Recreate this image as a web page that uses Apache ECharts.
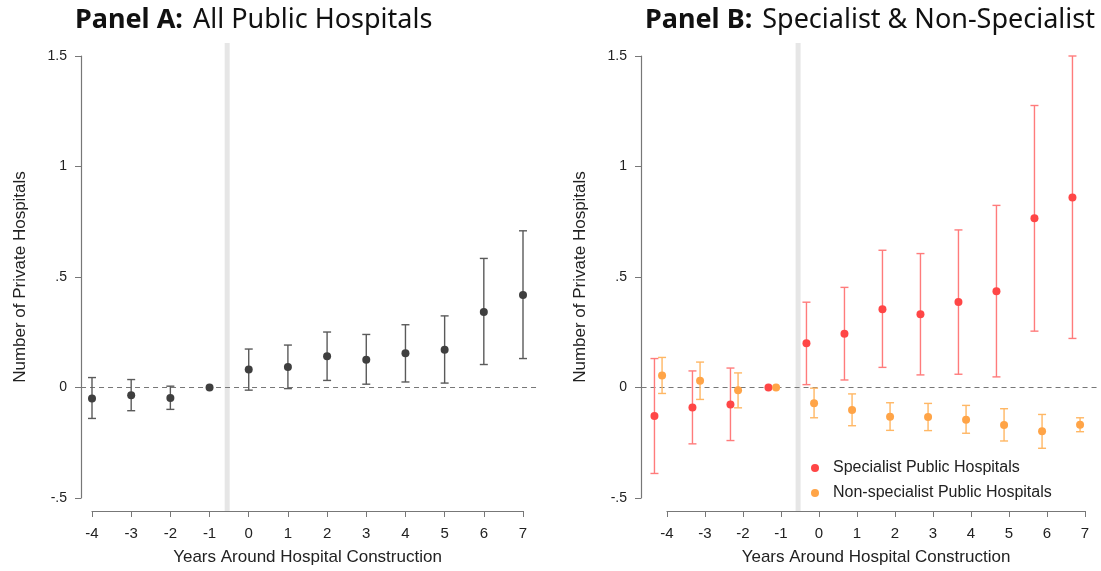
<!DOCTYPE html>
<html>
<head>
<meta charset="utf-8">
<script src="https://cdn.jsdelivr.net/npm/echarts@6/dist/echarts.min.js"></script>
<style>
  html, body { margin: 0; padding: 0; background: #fff; }
  #main { width: 1101px; height: 571px; }
</style>
</head>
<body>
<div id="main"></div>
<script>
// event-time years
var years = [-4, -3, -2, -1, 0, 1, 2, 3, 4, 5, 6, 7];
var yTicks = {'-0.5': '-.5', '0': '0', '0.5': '.5', '1': '1', '1.5': '1.5'};

// Panel A: all public hospitals
var allCoef = [-0.05, -0.035, -0.048, 0, 0.081, 0.093, 0.141, 0.126, 0.155, 0.171, 0.342, 0.419];
var allLow  = [-0.14, -0.105, -0.099, 0, -0.012, -0.005, 0.032, 0.015, 0.025, 0.02, 0.104, 0.131];
var allHigh = [0.045, 0.036, 0.006, 0, 0.174, 0.192, 0.251, 0.24, 0.284, 0.324, 0.584, 0.709];

// Panel B: specialist
var specCoef = [-0.129, -0.09, -0.077, 0, 0.2, 0.243, 0.354, 0.332, 0.387, 0.435, 0.766, 0.86];
var specLow  = [-0.389, -0.255, -0.24, 0, 0.013, 0.034, 0.091, 0.057, 0.06, 0.048, 0.255, 0.222];
var specHigh = [0.131, 0.075, 0.088, 0, 0.386, 0.453, 0.621, 0.606, 0.713, 0.824, 1.276, 1.5];

// Panel B: non-specialist
var nonCoef = [0.054, 0.03, -0.012, 0, -0.071, -0.102, -0.132, -0.134, -0.146, -0.17, -0.198, -0.168];
var nonLow  = [-0.027, -0.054, -0.092, 0, -0.137, -0.173, -0.194, -0.195, -0.207, -0.242, -0.275, -0.2];
var nonHigh = [0.136, 0.115, 0.066, 0, -0.003, -0.029, -0.069, -0.072, -0.081, -0.096, -0.122, -0.137];

var specShift = -0.33, nonShift = -0.13;
var breakYear = -0.55;

function pts(coef, shift) {
  return years.map(function (y, i) { return [y + shift, coef[i]]; });
}
function bars(lo, hi, shift) {
  var out = [];
  years.forEach(function (y, i) {
    if (y === -1) return; // reference year, no interval
    out.push([y + shift, lo[i], hi[i]]);
  });
  return out;
}
function errRender(color) {
  return function (params, api) {
    var x = api.value(0);
    var a = api.coord([x, api.value(1)]);
    var b = api.coord([x, api.value(2)]);
    var w = 4;
    var st = { stroke: color, lineWidth: 1.4 };
    return {
      type: 'group',
      children: [
        { type: 'line', shape: { x1: a[0], y1: a[1], x2: b[0], y2: b[1] }, style: st },
        { type: 'line', shape: { x1: a[0] - w, y1: a[1], x2: a[0] + w, y2: a[1] }, style: st },
        { type: 'line', shape: { x1: b[0] - w, y1: b[1], x2: b[0] + w, y2: b[1] }, style: st }
      ]
    };
  };
}
// reference lines: [x1, y1, x2, y2, kind]
function refRender(params, api) {
  var a = api.coord([api.value(0), api.value(1)]);
  var b = api.coord([api.value(2), api.value(3)]);
  var band = api.value(4) === 1;
  return {
    type: 'line',
    shape: { x1: a[0], y1: a[1], x2: b[0], y2: b[1] },
    style: band ? { stroke: '#e6e6e6', lineWidth: 5 }
                : { stroke: '#777', lineWidth: 1.2, lineDash: [5, 4] }
  };
}
function refData(xLeft, xRight) {
  return [
    [breakYear, -0.5586, breakYear, 1.5586, 1],
    [xLeft, 0, xRight, 0, 0]
  ];
}

var axisFont = 'Liberation Sans, Arial, sans-serif';
function xAx(idx) {
  return {
    gridIndex: idx, type: 'value', min: -4, max: 7, interval: 1,
    offset: 13,
    name: 'Years Around Hospital Construction', nameLocation: 'middle', nameGap: 38,
    nameTextStyle: { fontFamily: axisFont, fontSize: 17, color: '#222' },
    axisLine: { show: true, onZero: false, lineStyle: { color: '#777', width: 1.2 } },
    axisTick: { show: true, length: 6, lineStyle: { color: '#777' } },
    axisLabel: { fontFamily: axisFont, fontSize: 15, color: '#222', margin: 15 },
    splitLine: { show: false }
  };
}
function yAx(idx, off) {
  return {
    gridIndex: idx, type: 'value', min: -0.5, max: 1.5, interval: 0.5,
    offset: off,
    name: 'Number of Private Hospitals', nameLocation: 'middle', nameGap: 52,
    nameTextStyle: { fontFamily: axisFont, fontSize: 17, color: '#222' },
    axisLine: { show: true, onZero: false, lineStyle: { color: '#777', width: 1.2 } },
    axisTick: { show: true, length: 6, lineStyle: { color: '#777' } },
    axisLabel: {
      fontFamily: axisFont, fontSize: 14, color: '#222', margin: 14,
      formatter: function (v) { return yTicks[String(v)]; }
    },
    splitLine: { show: false }
  };
}

var titleRich = {
  b: { fontFamily: 'Noto Sans, sans-serif', fontWeight: 'bold', fontSize: 27, color: '#111' },
  r: { fontFamily: 'Noto Sans, sans-serif', fontWeight: 'normal', fontSize: 27, color: '#111' }
};

var chart = echarts.init(document.getElementById('main'));
var option = {
  animation: false,
  title: [
    { left: 70, top: 2, text: '{b|Panel A:}  {r|All Public Hospitals}', textStyle: { rich: titleRich } },
    { left: 640, top: 2, text: '{b|Panel B:}  {r|Specialist & Non-Specialist}', textStyle: { rich: titleRich } }
  ],
  legend: {
    left: 806, top: 455, orient: 'vertical', itemGap: 9,
    itemWidth: 8, itemHeight: 8, icon: 'circle',
    textStyle: { fontFamily: axisFont, fontSize: 16, color: '#222', padding: [0, 0, 0, 9] },
    data: ['Specialist Public Hospitals', 'Non-specialist Public Hospitals']
  },
  grid: [
    { left: 92, width: 431, top: 56, height: 444 },
    { left: 667, width: 418, top: 56, height: 444 }
  ],
  xAxis: [xAx(0), xAx(1)],
  yAxis: [yAx(0, 11), yAx(1, 26)],
  series: [
    {
      type: 'custom', name: 'refA', xAxisIndex: 0, yAxisIndex: 0, clip: false, silent: true,
      renderItem: refRender, data: refData(-4.28, 7.35), z: 1
    },
    {
      type: 'custom', name: 'allCI', xAxisIndex: 0, yAxisIndex: 0, clip: false,
      renderItem: errRender('#5a5a5a'), encode: { x: 0, y: [1, 2] },
      data: bars(allLow, allHigh, 0), z: 2
    },
    {
      type: 'scatter', name: 'All Public Hospitals', xAxisIndex: 0, yAxisIndex: 0, clip: false,
      symbolSize: 8, itemStyle: { color: '#3f3f3f', opacity: 1 }, data: pts(allCoef, 0), z: 3
    },
    {
      type: 'custom', name: 'refB', xAxisIndex: 1, yAxisIndex: 1, clip: false, silent: true,
      renderItem: refRender, data: refData(-4.67, 7.35), z: 1
    },
    {
      type: 'custom', name: 'specCI', xAxisIndex: 1, yAxisIndex: 1, clip: false,
      renderItem: errRender('#ff7b7b'), encode: { x: 0, y: [1, 2] },
      data: bars(specLow, specHigh, specShift), z: 2
    },
    {
      type: 'custom', name: 'nonCI', xAxisIndex: 1, yAxisIndex: 1, clip: false,
      renderItem: errRender('#ffb764'), encode: { x: 0, y: [1, 2] },
      data: bars(nonLow, nonHigh, nonShift), z: 2
    },
    {
      type: 'scatter', name: 'Specialist Public Hospitals', xAxisIndex: 1, yAxisIndex: 1, clip: false,
      symbolSize: 8, itemStyle: { color: '#ff4646', opacity: 1 }, data: pts(specCoef, specShift), z: 3
    },
    {
      type: 'scatter', name: 'Non-specialist Public Hospitals', xAxisIndex: 1, yAxisIndex: 1, clip: false,
      symbolSize: 8, itemStyle: { color: '#ffa447', opacity: 1 }, data: pts(nonCoef, nonShift), z: 3
    }
  ]
};
chart.setOption(option);
</script>
</body>
</html>
